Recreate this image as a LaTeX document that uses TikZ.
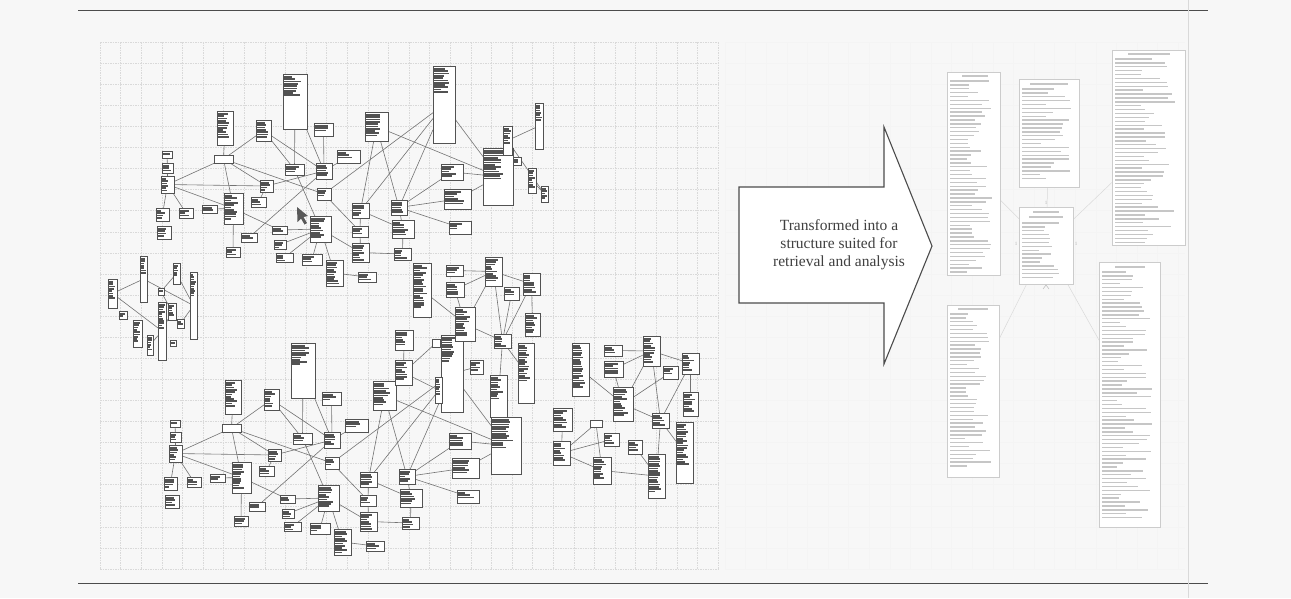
\documentclass[tikz,border=0pt]{standalone}
\usepackage{fontspec}
\setmainfont{Liberation Serif}
\usetikzlibrary{backgrounds}

\def\tbfrac{0.8}
\tikzset{
  txt/.code={\def\tbfrac{#1}},
  tb/.style={draw=black!68, line width=0.85pt, fill=white, inner sep=0pt, outer sep=0pt,
    path picture={%
      \pgfpointanchor{path picture bounding box}{north west}\pgfgetlastxy{\nwx}{\nwy}%
      \pgfpointanchor{path picture bounding box}{south east}\pgfgetlastxy{\sex}{\sey}%
      \pgfmathtruncatemacro\nrow{\tbfrac*(\nwy-\sey)/2.3}%
      \ifnum\nrow>0
        \foreach \k in {1,...,\nrow}{%
          \pgfmathsetmacro\rl{(0.3+0.4*rnd)*(\sex-\nwx)}%
          \draw[txtln] ({\nwx+1.3pt},{\nwy-0.6pt-\k*2.3pt}) -- ++(\rl pt,0pt);}%
      \fi}},
  txtln/.style={black!68, line width=1.7pt},
  lnk/.style={draw=black!55, line width=0.6pt},
  gridln/.style={gray!30, line width=0.4pt, dash pattern=on 1.5pt off 1pt},
  faintgrid/.style={gray!9, line width=0.4pt},
  dimtbl/.style={draw=gray!40, line width=0.5pt, fill=white, inner sep=0pt, outer sep=0pt},
  rowln/.style={gray!45, line width=1.4pt},
  starln/.style={gray!30, line width=0.5pt},
  card/.style={font=\fontsize{5}{5}\selectfont, text=gray!60, inner sep=0.5pt},
}

% box of the entity diagram: name, x0, y0, x1, y1, share filled with text
\newcommand{\erbox}[6]{\node[tb, txt=#6, minimum width={(#4-#2)*1pt},
  minimum height={(#5-#3)*1pt}] (#1) at ({(#2+#4)/2},{(#3+#5)/2}) {};}
\newcommand{\erlinks}[1]{\begin{pgfonlayer}{background}
  \foreach \a/\b in {#1} {\draw[lnk] (\a) -- (\b);}\end{pgfonlayer}}
% text rows of a star-schema table: x, y, count, min length, max length
\newcommand{\tblrows}[5]{\foreach \i in {1,...,#3}{
  \pgfmathsetmacro\len{#4+rnd*(#5-#4)}
  \draw[rowln] (#1,{#2+3.9*\i}) -- ++(\len,0);}}

% the operational model (drawn twice)
\newcommand{\ergroup}{%
  \erbox{u1}{283}{74}{307}{129}{0.4}
  \erbox{u2}{217}{111}{233}{145}{0.8}
  \erbox{u3}{256}{120}{271}{141}{0.85}
  \erbox{u4}{314}{123}{333}{136}{0.7}
  \erbox{u5}{365}{112}{388}{141}{0.85}
  \erbox{u6}{433}{66}{455}{143}{0.35}
  \erbox{u7}{483}{148}{513}{205}{0.55}
  \erbox{u9}{162}{151}{172}{158}{0.6}
  \erbox{u10}{162}{163}{173}{173}{0.7}
  \erbox{u11}{161}{176}{174}{193}{0.85}
  \erbox{u12}{214}{155}{233}{163}{0}
  \erbox{u13}{285}{164}{304}{175}{0.7}
  \erbox{u14}{316}{163}{332}{179}{0.85}
  \erbox{u15}{337}{150}{360}{163}{0.7}
  \erbox{u16}{260}{180}{273}{192}{0.85}
  \erbox{u17}{317}{188}{331}{200}{0.7}
  \erbox{u18}{441}{164}{463}{180}{0.75}
  \erbox{u19}{444}{189}{471}{209}{0.75}
  \erbox{u20}{156}{208}{169}{221}{0.85}
  \erbox{u21}{179}{208}{193}{218}{0.7}
  \erbox{u22}{157}{226}{171}{239}{0.85}
  \erbox{u23}{202}{205}{217}{213}{0.7}
  \erbox{u24}{224}{193}{243}{224}{0.85}
  \erbox{u25}{251}{197}{266}{207}{0.8}
  \erbox{u26}{352}{203}{369}{218}{0.85}
  \erbox{u27}{391}{200}{407}{215}{0.85}
  \erbox{u28}{392}{220}{414}{238}{0.85}
  \erbox{u29}{449}{221}{471}{234}{0.7}
  \erbox{u30}{310}{216}{331}{242}{0.85}
  \erbox{u31}{272}{226}{287}{234}{0.75}
  \erbox{u32}{241}{233}{257}{242}{0.75}
  \erbox{u33}{274}{240}{286}{249}{0.8}
  \erbox{u34}{276}{253}{293}{262}{0.8}
  \erbox{u35}{302}{254}{322}{265}{0.7}
  \erbox{u36}{352}{226}{368}{237}{0.8}
  \erbox{u37}{352}{243}{369}{262}{0.85}
  \erbox{u38}{394}{248}{411}{260}{0.8}
  \erbox{u39}{326}{260}{343}{286}{0.9}
  \erbox{u40}{358}{272}{376}{282}{0.7}
  \erbox{u41}{226}{247}{240}{257}{0.8}
  \erlinks{u12/u2, u12/u3, u12/u11, u12/u24, u12/u16, u12/u17,
    u11/u10, u10/u9, u11/u20, u11/u21, u11/u16, u11/u24,
    u3/u13, u3/u14, u1/u13, u1/u14, u4/u14, u15/u14,
    u13/u30, u16/u14, u14/u32, u17/u36,
    u5/u26, u5/u27, u5/u7, u6/u17, u6/u26, u6/u27, u6/u7,
    u18/u7, u19/u7, u27/u18, u27/u19, u27/u29, u27/u28, u26/u28,
    u28/u38, u37/u38, u36/u37, u26/u36,
    u30/u31, u30/u33, u30/u34, u30/u35, u30/u39, u30/u37,
    u24/u23, u24/u41, u24/u31, u25/u16, u39/u40}
}

\begin{document}
\begin{tikzpicture}[x=1pt, y=-1pt]
  \useasboundingbox (0,0) rectangle (1291,598);
  \pgfmathsetseed{3}

  % Paper and grids
  \begin{pgfonlayer}{background}
    \fill[black!3] (0,0) rectangle (1291,598);
    \foreach \gx in {0,...,22} \draw[faintgrid] ({725+20.6*\gx},42) -- ({725+20.6*\gx},569);
    \foreach \gy in {0,...,25} \draw[faintgrid] (725,{42+21.08*\gy}) -- (1185,{42+21.08*\gy});
    \foreach \gx in {0,...,30} \draw[gridln] ({100+20.6*\gx},42) -- ({100+20.6*\gx},569);
    \foreach \gy in {0,...,25} \draw[gridln] (100,{42+21.08*\gy}) -- (718,{42+21.08*\gy});
  \end{pgfonlayer}

  % Page rules
  \draw[black!70, line width=1pt] (78,10) -- (1208,10);
  \draw[black!70, line width=1pt] (78,583) -- (1208,583);
  \draw[gray!30, line width=0.6pt] (1188,0) -- (1188,598);

  % Upper model and its copy below
  \ergroup
  \erbox{u8}{503}{126}{512}{155}{0.6}
  \erbox{x1}{535}{103}{543}{149}{0.4}
  \erbox{x2}{513}{157}{521}{165}{0.7}
  \erbox{x3}{528}{168}{536}{193}{0.8}
  \erbox{x4}{541}{186}{548}{202}{0.8}
  \erlinks{u8/u7, u8/x1, u8/x4, x3/x4}
  \begin{scope}[shift={(8,269)}, name prefix=lo-]
    \ergroup
  \end{scope}

  % Extra boxes of the lower model
  \erbox{m11}{395}{330}{413}{350}{0.8}
  \erbox{m12}{395}{360}{412}{385}{0.8}
  \erbox{m13}{432}{339}{440}{347}{0}
  \erbox{m15}{435}{377}{442}{403}{0.7}
  \erbox{m16}{470}{360}{483}{374}{0.7}
  \erbox{m17}{490}{375}{507}{417}{0.6}
  \erlinks{m11/m12, m12/m13, m12/m15, m16/lo-u6, m17/lo-u7}

  % Middle model
  \erbox{m1}{413}{263}{431}{317}{0.85}
  \erbox{m2}{446}{265}{463}{276}{0.7}
  \erbox{m3}{446}{282}{464}{297}{0.8}
  \erbox{m4}{485}{257}{502}{286}{0.85}
  \erbox{m5}{504}{287}{519}{300}{0.7}
  \erbox{m6}{523}{273}{540}{295}{0.85}
  \erbox{m7}{455}{307}{475}{341}{0.85}
  \erbox{m8}{494}{334}{511}{348}{0.85}
  \erbox{m9}{525}{313}{540}{336}{0.85}
  \erbox{m10}{518}{343}{534}{403}{0.65}
  \erlinks{m4/m2, m4/m3, m3/m7, m4/m7, m1/m7, m4/m6, m4/m8, m6/m8,
    m6/m9, m7/m8, m8/m10, m8/m17, m5/m8}

  % Small model on the left
  \erbox{c42}{108}{279}{117}{308}{0.7}
  \erbox{c43}{140}{256}{147}{302}{0.4}
  \erbox{c44}{173}{263}{180}{284}{0.6}
  \erbox{c45}{190}{272}{197}{339}{0.35}
  \erbox{c46}{158}{302}{166}{360}{0.45}
  \erbox{c47}{168}{303}{176}{320}{0.7}
  \erbox{c48}{177}{319}{184}{328}{0.7}
  \erbox{c49}{119}{311}{127}{319}{0.6}
  \erbox{c50}{133}{320}{142}{347}{0.8}
  \erbox{c51}{158}{288}{164}{295}{0.6}
  \erbox{c52}{147}{335}{153}{355}{0.7}
  \erbox{c53}{170}{340}{176}{346}{0.6}
  \erlinks{c42/c43, c42/c46, c43/c45, c44/c51, c44/c45, c51/c47,
    c45/c48, c46/c47, c52/c46}

  % Right model
  \erbox{r1}{572}{343}{589}{396}{0.85}
  \erbox{r2}{604}{345}{622}{356}{0.7}
  \erbox{r3}{604}{361}{623}{377}{0.8}
  \erbox{r4}{643}{336}{660}{366}{0.85}
  \erbox{r5}{663}{366}{678}{379}{0.7}
  \erbox{r6}{682}{353}{699}{374}{0.85}
  \erbox{r7}{613}{387}{633}{421}{0.85}
  \erbox{r8}{652}{413}{669}{428}{0.85}
  \erbox{r9}{683}{392}{698}{416}{0.85}
  \erbox{r10}{676}{422}{693}{483}{0.7}
  \erbox{r11}{553}{408}{572}{431}{0.85}
  \erbox{r12}{553}{441}{570}{465}{0.85}
  \erbox{r13}{590}{420}{602}{427}{0}
  \erbox{r14}{604}{433}{619}{446}{0.8}
  \erbox{r15}{628}{440}{642}{454}{0.7}
  \erbox{r16}{593}{457}{611}{484}{0.85}
  \erbox{r17}{648}{454}{665}{498}{0.85}
  \erlinks{r1/r7, r2/r4, r3/r4, r4/r6, r4/r7, r7/r5, r7/r8, r4/r8,
    r6/r9, r6/r8, r8/r10, r8/r17, r11/r12, r12/r13, r12/r14, r12/r16,
    r13/r16, r16/r17, r15/r17, r3/r7}

  % Mouse pointer
  \fill[black!65] (297,207) -- (297.5,222) -- (301,218.5) -- (304.5,224.5)
    -- (307,223) -- (303.5,217) -- (308,216) -- cycle;

  % Arrow with caption
  \draw[black!70, line width=1.1pt, fill=white] (739,187) -- (884,187) -- (884,127)
    -- (932,246) -- (884,364) -- (884,303) -- (739,303) -- cycle;
  \node[align=center, font=\fontsize{15.5}{18}\selectfont, text=black!75] (note)
    at (839,245) {Transformed into a\\structure suited for\\retrieval and analysis};

  % Star schema
  \pgfmathsetseed{7}
  \node[dimtbl, minimum width=53pt, minimum height=203pt] (stud) at (973.5,173.5) {};
  \node[dimtbl, minimum width=60pt, minimum height=108pt] (date) at (1049,133) {};
  \node[dimtbl, minimum width=73pt, minimum height=195pt] (sect) at (1148.5,147.5) {};
  \node[dimtbl, minimum width=54pt, minimum height=77pt] (fact) at (1046,245.5) {};
  \node[dimtbl, minimum width=52pt, minimum height=172pt] (studb) at (973,391) {};
  \node[dimtbl, minimum width=61pt, minimum height=265pt] (class) at (1129.5,394.5) {};
  \begin{pgfonlayer}{background}
    \foreach \t in {stud, date, sect, studb, class} \draw[starln] (fact) -- (\t);
  \end{pgfonlayer}
  \draw[rowln] (962,76) -- ++(26,0);
  \tblrows{950}{77}{50}{15}{42}
  \draw[rowln] (1030,84) -- ++(38,0);
  \tblrows{1022}{85}{24}{18}{50}
  \draw[rowln] (1128,54) -- ++(42,0);
  \tblrows{1115}{55}{48}{25}{60}
  \draw[rowln] (1033,212) -- ++(26,0);
  \draw[rowln] (1029,217) -- ++(34,0);
  \tblrows{1022}{219}{15}{15}{40}
  \draw[rowln] (958,309) -- ++(30,0);
  \tblrows{950}{310}{40}{15}{42}
  \draw[rowln] (1115,267) -- ++(30,0);
  \tblrows{1102}{268}{64}{15}{50}
  \node[card] (c1) at (1046,203) {1};
  \node[card] (c2) at (1016,244) {1};
  \node[card] (c3) at (1076,244) {1};
  \draw[gray!55, line width=0.5pt] (1043,289) -- (1046,285) -- (1049,289);
\end{tikzpicture}
\end{document}
